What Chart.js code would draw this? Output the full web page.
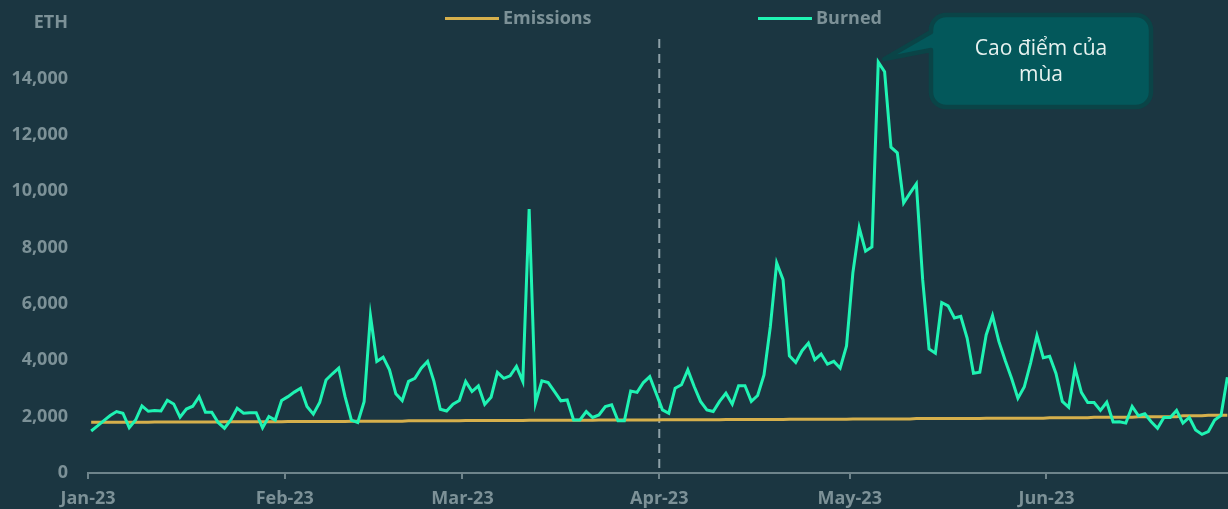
<!DOCTYPE html>
<html>
<head>
<meta charset="utf-8">
<script src="https://cdn.jsdelivr.net/npm/chart.js@4.4.1/dist/chart.umd.min.js"></script>
<style>
  html, body { margin: 0; padding: 0; background: #1b3641; overflow: hidden; }
  #wrap { position: relative; width: 1228px; height: 509px; }
</style>
</head>
<body>
<div id="wrap"><canvas id="c"></canvas></div>
<script>
// ---------- data ----------
const monthLabels = ['Jan-23', 'Feb-23', 'Mar-23', 'Apr-23', 'May-23', 'Jun-23'];
const monthStartDays = [0, 31, 59, 90, 120, 151];   // day index of each month start (Jan 1 = 0)
const markerDay = 90;                               // Apr 1 dashed marker
const axisTitle = 'ETH';
const seriesNames = ['Emissions', 'Burned'];
const calloutLines = ['Cao điểm của', 'mùa'];
const yTicks = [0, 2000, 4000, 6000, 8000, 10000, 12000, 14000];

// daily ETH burned, Jan 1 .. Jun 29 2023
const burned = [
  // Jan
  1490, 1670, 1860, 2040, 2180, 2120, 1610, 1880, 2380, 2190, 2220, 2200, 2580, 2450, 1980, 2270,
  2370, 2710, 2160, 2160, 1790, 1590, 1880, 2300, 2120, 2140, 2140, 1600, 2000, 1880, 2570,
  // Feb
  2710, 2870, 3010, 2360, 2090, 2500, 3300, 3520, 3720, 2710, 1880, 1790, 2530, 5580,
  3960, 4110, 3660, 2810, 2570, 3250, 3360, 3720, 3960, 3250, 2260, 2200, 2440, 2570,
  // Mar
  3250, 2890, 3090, 2440, 2690, 3570, 3360, 3450, 3780, 3250, 9370, 2480, 3270, 3210, 2890, 2560,
  2590, 1880, 1880, 2180, 1970, 2060, 2360, 2420, 1850, 1850, 2910, 2860, 3210, 3420, 2830,
  // Apr
  2240, 2120, 3010, 3130, 3660, 3070, 2540, 2240, 2180, 2540, 2830, 2440, 3100, 3100, 2540,
  2750, 3480, 5200, 7450, 6860, 4160, 3920, 4340, 4610, 4020, 4220, 3860, 3960, 3720, 4510,
  // May
  7100, 8700, 7870, 8020, 14580, 14240, 11560, 11360, 9580, 9930, 10260, 6850, 4400, 4250, 6050, 5930,
  5500, 5560, 4790, 3540, 3580, 4900, 5580, 4670, 3990, 3360, 2650, 3050, 3900, 4880, 4090,
  // Jun
  4140, 3530, 2540, 2330, 3720, 2860, 2500, 2500, 2220, 2510, 1810, 1820, 1770, 2360, 2030,
  2100, 1820, 1590, 1970, 1970, 2220, 1770, 1970, 1530, 1370, 1470, 1880, 2040, 3400
];

// daily ETH issued (emissions), Jan 1 .. Jun 29 2023
const emissions = [
  // Jan
  1800, 1800, 1800, 1800, 1800, 1800, 1800, 1800, 1800, 1800, 1810, 1810, 1810, 1810, 1810, 1810,
  1810, 1810, 1810, 1810, 1810, 1820, 1820, 1820, 1820, 1820, 1820, 1820, 1820, 1820, 1820,
  // Feb
  1830, 1830, 1830, 1830, 1830, 1830, 1830, 1830, 1830, 1830, 1840, 1840, 1840, 1840,
  1840, 1840, 1840, 1840, 1840, 1850, 1850, 1850, 1850, 1850, 1850, 1850, 1850, 1850,
  // Mar
  1860, 1860, 1860, 1860, 1860, 1860, 1860, 1860, 1860, 1860, 1870, 1870, 1870, 1870, 1870, 1870,
  1870, 1870, 1870, 1870, 1870, 1880, 1880, 1880, 1880, 1880, 1880, 1880, 1880, 1880, 1880,
  // Apr
  1890, 1890, 1890, 1890, 1890, 1890, 1890, 1890, 1890, 1890, 1900, 1900, 1900, 1900, 1900,
  1900, 1900, 1900, 1900, 1900, 1910, 1910, 1910, 1910, 1910, 1910, 1910, 1910, 1910, 1910,
  // May
  1920, 1920, 1920, 1920, 1920, 1920, 1920, 1920, 1920, 1920, 1930, 1930, 1930, 1930, 1930, 1930,
  1930, 1930, 1930, 1930, 1930, 1940, 1940, 1940, 1940, 1940, 1940, 1940, 1940, 1940, 1940,
  // Jun
  1960, 1960, 1960, 1960, 1960, 1960, 1960, 1980, 1980, 1980, 1980, 1980, 1980, 1980, 2000,
  2000, 2000, 2000, 2000, 2000, 2000, 2030, 2030, 2030, 2030, 2050, 2050, 2050, 2050
];

// ---------- styles ----------
const COL = {
  text: '#7c9197',
  axis: '#6e848b',
  dash: '#8ea1a8',
  burned: '#1ff3b3',
  emissions: '#d6b04c',
  calloutFill: '#03585b',
  calloutBorder: '#0a4447',
  calloutText: '#e8f2f0'
};
const FONT = '"Open Sans", "Noto Sans", sans-serif';

// points are placed at mid-day of each day on a linear day axis
const toPoints = arr => arr.map((v, i) => ({ x: i + 0.5, y: v }));

const decor = {
  id: 'decor',
  beforeDatasetsDraw(chart) {
    const { ctx, chartArea, scales } = chart;
    const x = scales.x.getPixelForValue(markerDay);
    ctx.save();
    ctx.strokeStyle = COL.dash;
    ctx.lineWidth = 2;
    ctx.setLineDash([9, 6]);
    ctx.beginPath();
    ctx.moveTo(x, chartArea.top);
    ctx.lineTo(x, chartArea.bottom - 3);
    ctx.stroke();
    ctx.restore();
  },
  afterDraw(chart) {
    const { ctx, scales } = chart;
    ctx.save();
    // axis title
    ctx.font = 'bold 18px ' + FONT;
    ctx.fillStyle = COL.text;
    ctx.textBaseline = 'middle';
    ctx.textAlign = 'right';
    ctx.fillText(axisTitle, scales.y.right - 20, 23);

    // legend
    const items = [
      { name: seriesNames[0], color: COL.emissions, x: 445 },
      { name: seriesNames[1], color: COL.burned, x: 758 }
    ];
    ctx.textAlign = 'left';
    items.forEach(it => {
      ctx.fillStyle = it.color;
      ctx.fillRect(it.x, 17, 54, 3);
      ctx.fillStyle = COL.text;
      ctx.fillText(it.name, it.x + 58, 18.5);
    });

    // callout pointing to peak
    const peak = Math.max(...burned);
    const pi = burned.indexOf(peak);
    const tipX = scales.x.getPixelForValue(pi + 0.5) + 6;
    const tipY = scales.y.getPixelForValue(peak) - 3;
    const L = 931, R = 1151, T = 15, B = 107, r = 15;
    ctx.beginPath();
    ctx.moveTo(L + r, T);
    ctx.lineTo(R - r, T);
    ctx.arcTo(R, T, R, T + r, r);
    ctx.lineTo(R, B - r);
    ctx.arcTo(R, B, R - r, B, r);
    ctx.lineTo(L + r, B);
    ctx.arcTo(L, B, L, B - r, r);
    ctx.lineTo(L, 50);
    ctx.lineTo(tipX, tipY);
    ctx.lineTo(L, 32);
    ctx.lineTo(L, T + r);
    ctx.arcTo(L, T, L + r, T, r);
    ctx.closePath();
    ctx.fillStyle = COL.calloutFill;
    ctx.fill();
    ctx.lineWidth = 4.5;
    ctx.lineJoin = 'round';
    ctx.strokeStyle = COL.calloutBorder;
    ctx.stroke();

    ctx.font = '21px ' + FONT;
    ctx.fillStyle = COL.calloutText;
    ctx.textAlign = 'center';
    ctx.textBaseline = 'middle';
    calloutLines.forEach((t, i) => ctx.fillText(t, (L + R) / 2, 49 + i * 26));
    ctx.restore();
  }
};

new Chart(document.getElementById('c'), {
  type: 'line',
  data: {
    datasets: [
      {
        label: seriesNames[1],
        data: toPoints(burned),
        borderColor: COL.burned,
        borderWidth: 3,
        pointRadius: 0,
        tension: 0,
        order: 0
      },
      {
        label: seriesNames[0],
        data: toPoints(emissions),
        borderColor: COL.emissions,
        borderWidth: 3,
        pointRadius: 0,
        tension: 0,
        order: 1
      }
    ]
  },
  options: {
    responsive: true,
    maintainAspectRatio: false,
    animation: false,
    devicePixelRatio: 1,
    layout: { padding: { top: 39, left: 0, right: 0, bottom: 0 } },
    plugins: { legend: { display: false }, tooltip: { enabled: false } },
    scales: {
      x: {
        type: 'linear',
        min: 0,
        max: 179.6,
        afterBuildTicks: s => { s.ticks = monthStartDays.map(v => ({ value: v })); },
        afterFit: s => { s.height = 36; },
        ticks: {
          autoSkip: false,
          maxRotation: 0,
          minRotation: 0,
          padding: 9,
          color: COL.text,
          font: { family: FONT, size: 18, weight: 'bold' },
          callback: v => monthLabels[monthStartDays.indexOf(v)]
        },
        grid: { drawOnChartArea: false, drawTicks: true, tickLength: 6, color: COL.axis, lineWidth: 2 },
        border: { display: true, color: COL.axis, width: 2 }
      },
      y: {
        min: 0,
        max: 15400,
        afterBuildTicks: s => { s.ticks = yTicks.map(v => ({ value: v })); },
        afterFit: s => { s.width = 88; },
        ticks: {
          padding: 20,
          color: COL.text,
          font: { family: FONT, size: 18, weight: 'bold' },
          callback: v => v.toLocaleString('en-US')
        },
        grid: { display: false, drawTicks: false },
        border: { display: false }
      }
    }
  },
  plugins: [decor]
});
</script>
</body>
</html>
